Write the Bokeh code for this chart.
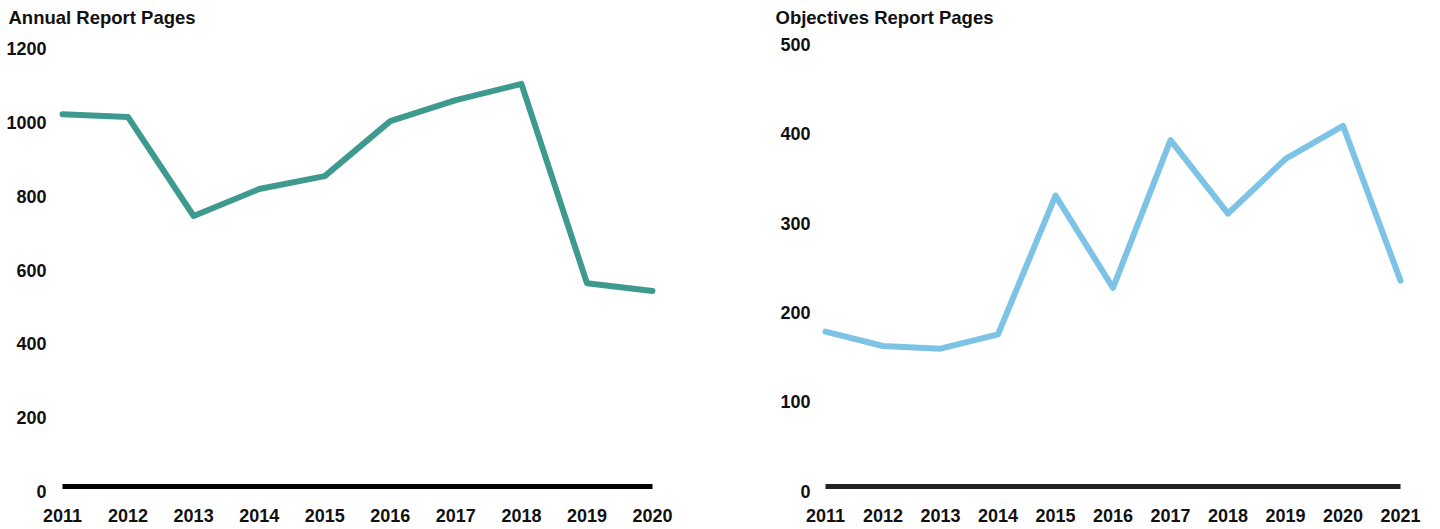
from bokeh.plotting import figure
from bokeh.layouts import row
from bokeh.models import Range1d, FixedTicker, LabelSet, ColumnDataSource
from bokeh.core.properties import value
from bokeh.embed import file_html
from bokeh.resources import INLINE

# ---- data ----
annual_years = [2011, 2012, 2013, 2014, 2015, 2016, 2017, 2018, 2019, 2020]
annual_pages = [1009, 1001, 733, 806, 841, 990, 1047, 1091, 551, 530]

obj_years = [2011, 2012, 2013, 2014, 2015, 2016, 2017, 2018, 2019, 2020, 2021]
obj_pages = [173, 157, 154, 170, 325, 222, 387, 305, 366, 403, 230]

annual_yticks = [0, 200, 400, 600, 800, 1000, 1200]
obj_yticks = [0, 100, 200, 300, 400, 500]

FONT = "Liberation Sans"
H = 529


def style(p, years, yticks, title_offset, label_offset):
    p.title.text_font = FONT
    p.title.text_font_size = "18.5px"
    p.title.text_font_style = "bold"
    p.title.text_color = "#111111"
    p.title.align = "left"
    p.title.offset = title_offset
    p.title.standoff = 8
    p.xgrid.grid_line_color = None
    p.ygrid.grid_line_color = None
    p.outline_line_color = None
    p.background_fill_color = "white"
    p.border_fill_color = "white"
    ax = p.xaxis[0]
    ax.axis_line_color = None
    ax.major_tick_line_color = None
    ax.minor_tick_line_color = None
    ax.major_tick_out = 0
    ax.major_tick_in = 0
    ax.minor_tick_out = 0
    ax.major_label_text_font = FONT
    ax.major_label_text_font_size = "18px"
    ax.major_label_text_font_style = "bold"
    ax.major_label_text_color = "#111111"
    ax.ticker = FixedTicker(ticks=years)
    ax.major_label_standoff = 6
    p.yaxis[0].visible = False
    # y tick labels: at their tick values, set just left of the first year
    src = ColumnDataSource(dict(x=[years[0]] * len(yticks), y=yticks,
                                text=[str(v) for v in yticks]))
    p.add_layout(LabelSet(x="x", y="y", text="text", source=src,
                          x_offset=label_offset, y_offset=-5,
                          text_align=value("right"), text_baseline=value("middle"),
                          text_font=value(FONT), text_font_size=value("18px"),
                          text_font_style=value("bold"), text_color=value("#111111")))


# ---- left chart ----
p1 = figure(width=720, height=H, output_backend="svg", toolbar_location=None,
            title="Annual Report Pages",
            x_range=Range1d(2010.054, 2020.427), y_range=Range1d(-43.4, 1233),
            min_border_left=0, min_border_right=40, min_border_top=31,
            min_border_bottom=27)
style(p1, annual_years, annual_yticks, 8, -16)
p1.segment(x0=annual_years[0], x1=annual_years[-1], y0=0, y1=0,
           line_color="black", line_width=5)
p1.line(annual_years, annual_pages, line_color="#3E9A8F", line_width=6,
        line_join="round", line_cap="round")

# ---- right chart ----
p2 = figure(width=720, height=H, output_backend="svg", toolbar_location=None,
            title="Objectives Report Pages",
            x_range=Range1d(2009.174, 2021.417), y_range=Range1d(-17.9, 508.4),
            min_border_left=0, min_border_right=16, min_border_top=31,
            min_border_bottom=27)
style(p2, obj_years, obj_yticks, 55, -15)
p2.segment(x0=obj_years[0], x1=obj_years[-1], y0=0, y1=0,
           line_color="#222222", line_width=5)
p2.line(obj_years, obj_pages, line_color="#7CC3E6", line_width=6,
        line_join="round", line_cap="round")

layout = row(p1, p2)
open("out.html", "w").write(file_html(layout, INLINE))
